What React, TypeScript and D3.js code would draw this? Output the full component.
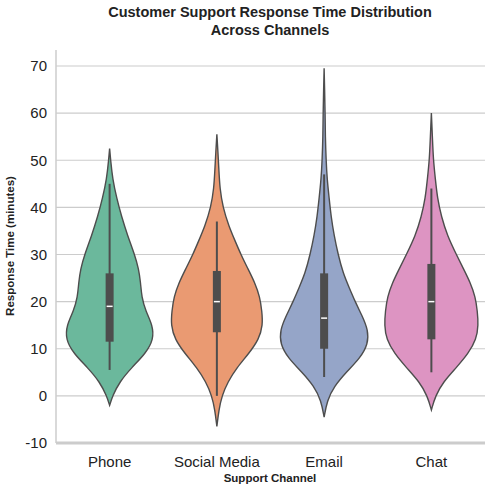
import React from "react";
import * as d3 from "d3";

const categories = ["Phone", "Social Media", "Email", "Chat"];
const colors = ["#6bb89c", "#ea9a72", "#95a5c8", "#dd94c2"];
const yTicks = [-10, 0, 10, 20, 30, 40, 50, 60, 70];
// density profiles: [value, relative half-width]
const phoneDensity = [[-2,0],[0,3],[3,10],[6,22],[9,36],[12,44],[15,43],[18,36],[21,32],[24,31],[27,29],[30,25],[34,18],[38,12],[42,7],[46,3],[50,1],[52.5,0]];
const socialDensity = [[-6.5,0],[-3,2],[0,5],[3,11],[6,20],[9,32],[12,42],[15,46],[18,45],[21,43],[24,38],[27,31],[30,24],[33,18],[36,12],[40,6],[44,3],[48,2],[52,1],[55.5,0]];
const emailDensity = [[-4.5,0],[-1,3],[2,10],[5,22],[8,36],[11,44],[14,44],[17,38],[20,31],[23,25],[26,19],[30,14],[34,10],[38,7],[42,5],[46,3],[50,2],[55,1.2],[60,1],[65,0.5],[69.5,0]];
const chatDensity = [[-3,0],[0,4],[3,12],[6,25],[9,37],[12,45],[15,47],[18,46],[21,44],[24,39],[27,32],[30,25],[34,16],[38,10],[42,6],[46,4],[50,2],[55,1],[60,0]];
const densities = [phoneDensity, socialDensity, emailDensity, chatDensity];
// box stats: [whiskerLow, q1, median, q3, whiskerHigh]
const boxStats = [[5.5,11.5,19,26,45],[0,13.5,20,26.5,37],[4,10,16.5,26,47],[5,12,20,28,44]];

export default function App() {
  const W = 490, H = 490;
  const left = 56, right = 485, top = 50, bottom = 443;
  const y = d3.scaleLinear().domain([-10, 70]).range([443, 66]);
  const x = d3.scaleBand().domain(categories).range([left, right]).padding(0);
  const w = d3.scaleLinear().domain([0, 47]).range([0, 47]);
  const font = "'Liberation Sans', Arial, sans-serif";
  return (
    <svg width={W} height={H} style={{ position: "absolute", left: 0, top: 0 }}>
      <rect width={W} height={H} fill="#fff" />
      {yTicks.map(t => (
        <g key={t}>
          <line x1={left} x2={right} y1={y(t)} y2={y(t)} stroke="#cccccc" strokeWidth={1.2} />
          <text x={left - 9} y={y(t)} dy="0.35em" textAnchor="end" fontSize={15} fontFamily={font} fill="#222">{t}</text>
        </g>
      ))}
      <line x1={left} x2={left} y1={top} y2={bottom} stroke="#cccccc" strokeWidth={1.5} />
      <line x1={left} x2={right} y1={bottom} y2={bottom} stroke="#cccccc" strokeWidth={3} />
      {categories.map((c, i) => {
        const cx = x(c)! + x.bandwidth() / 2;
        const area = d3.area<number[]>()
          .y(d => y(d[0]))
          .x0(d => cx - w(d[1]))
          .x1(d => cx + w(d[1]))
          .curve(d3.curveBasis);
        const b = boxStats[i];
        return (
          <g key={c}>
            <path d={area(densities[i] as any)!} fill={colors[i]} stroke="#4d4d4d" strokeWidth={1.4} />
            <line x1={cx} x2={cx} y1={y(b[0])} y2={y(b[4])} stroke="#4d4d4d" strokeWidth={2} />
            <rect x={cx - 4} width={8} y={y(b[3])} height={y(b[1]) - y(b[3])} fill="#4d4d4d" />
            <line x1={cx - 3} x2={cx + 3} y1={y(b[2])} y2={y(b[2])} stroke="#fff" strokeWidth={1.5} />
            <text x={cx} y={467} textAnchor="middle" fontSize={15} fontFamily={font} fill="#222">{c}</text>
          </g>
        );
      })}
      <text x={270} y={17} textAnchor="middle" fontSize={14.5} fontWeight="bold" fontFamily={font} fill="#222">Customer Support Response Time Distribution</text>
      <text x={270} y={35} textAnchor="middle" fontSize={14.5} fontWeight="bold" fontFamily={font} fill="#222">Across Channels</text>
      <text x={270} y={482} textAnchor="middle" fontSize={11.5} fontWeight="bold" fontFamily={font} fill="#222">Support Channel</text>
      <text transform="translate(14,246) rotate(-90)" textAnchor="middle" fontSize={11.5} fontWeight="bold" fontFamily={font} fill="#222">Response Time (minutes)</text>
    </svg>
  );
}
